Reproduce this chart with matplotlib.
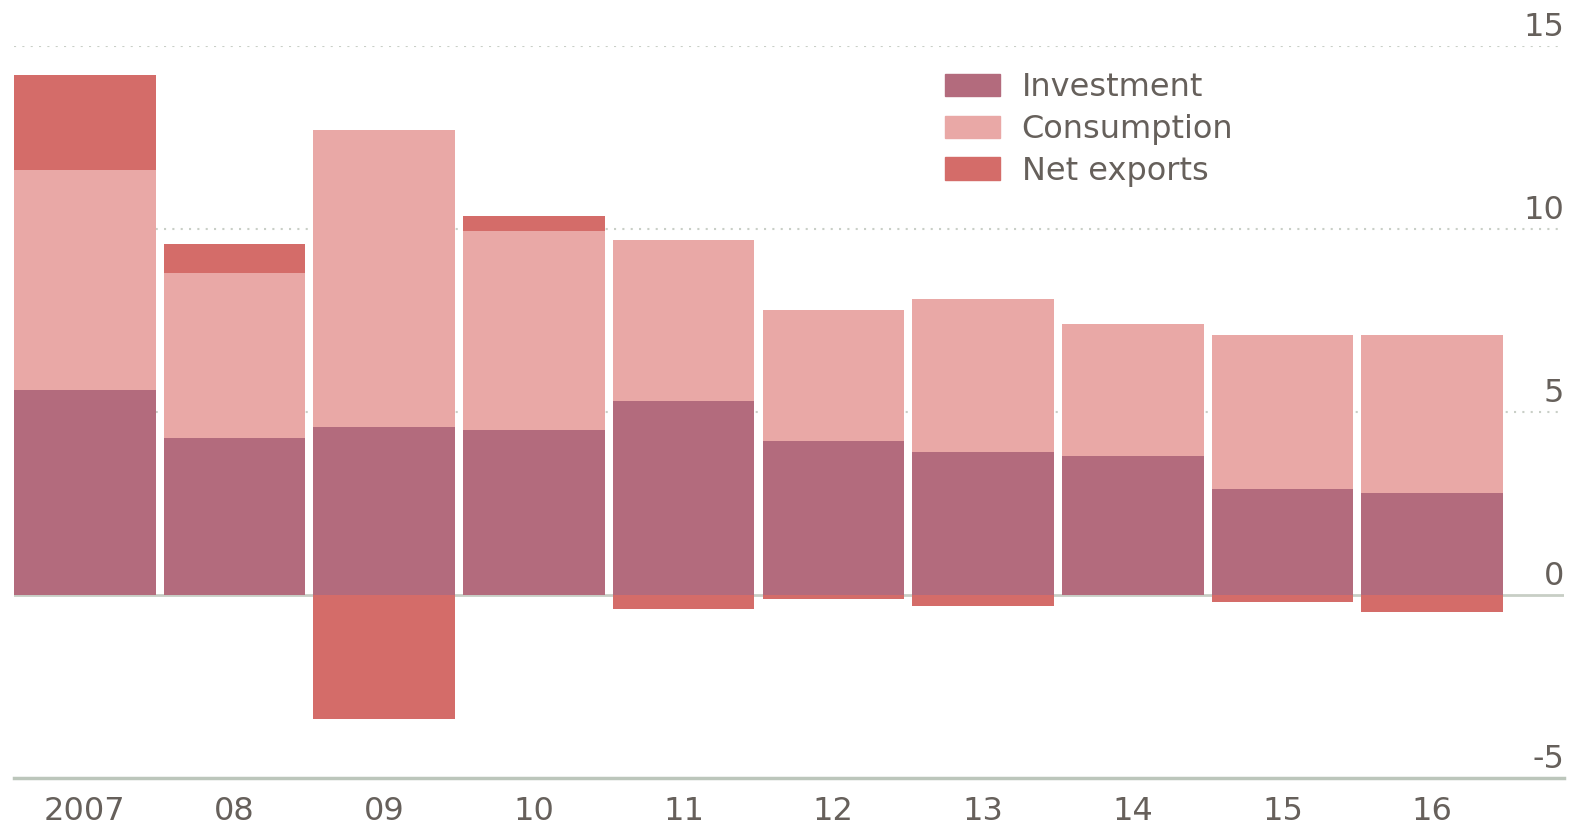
import numpy as np
import matplotlib.pyplot as plt
from matplotlib.patches import Patch

years = ['2007', '08', '09', '10', '11', '12', '13', '14', '15', '16']
investment = [5.6, 4.3, 4.6, 4.5, 5.3, 4.2, 3.9, 3.8, 2.9, 2.8]
consumption = [6.0, 4.5, 8.1, 5.45, 4.4, 3.6, 4.2, 3.6, 4.2, 4.3]
net_exports = [2.6, 0.8, -3.4, 0.4, -0.38, -0.12, -0.3, 0.0, -0.19, -0.46]

c_inv = '#b36b7d'
c_con = '#e9a8a6'
c_net = '#d46c69'
txt = '#66605b'

plt.rcParams['font.family'] = ['DejaVu Sans']

fig = plt.figure(figsize=(15.75, 8.26), dpi=100)
ax = fig.add_axes([14 / 1575, 1 - 778 / 826, (1564 - 14) / 1575, (778 - 46) / 826])

x = np.arange(len(years))
w = 0.946
inv = np.array(investment)
con = np.array(consumption)
net = np.array(net_exports)

ax.bar(x, inv, w, color=c_inv, zorder=3)
ax.bar(x, con, w, bottom=inv, color=c_con, zorder=3)
# net exports go on top when positive, below zero when negative
net_bottom = np.where(net >= 0, inv + con, 0)
ax.bar(x, net, w, bottom=net_bottom, color=c_net, zorder=3)

ax.set_xlim(-w / 2, 9.88)
ax.set_ylim(-5, 15)

for v in [5, 10, 15]:
    ax.axhline(v, color='#c9cfc7', lw=1.5, ls=(0, (1, 3)), zorder=1)
ax.axhline(0, color='#c8cec5', lw=2, zorder=1)
ax.axhline(-5, color='#bcc6bb', lw=2.5, zorder=1, clip_on=False)

for v in [15, 10, 5, 0, -5]:
    ax.text(1.0, v + 0.07, str(v), transform=ax.get_yaxis_transform(),
            ha='right', va='bottom', fontsize=23, color=txt)

for s in ax.spines.values():
    s.set_visible(False)
ax.set_yticks([])
ax.set_xticks(x)
ax.set_xticklabels(years, fontsize=23, color=txt)
ax.tick_params(axis='x', length=0, pad=13)

handles = [Patch(color=c_inv), Patch(color=c_con), Patch(color=c_net)]
fig.legend(handles, ['Investment', 'Consumption', 'Net exports'],
           loc='upper left', bbox_to_anchor=(945 / 1575, 1 - 72 / 826),
           frameon=False, fontsize=23, labelcolor=txt,
           handlelength=1.72, handleheight=0.69, handletextpad=0.68,
           labelspacing=0.34, borderpad=0, borderaxespad=0)

fig.savefig('out.png', dpi=100)
